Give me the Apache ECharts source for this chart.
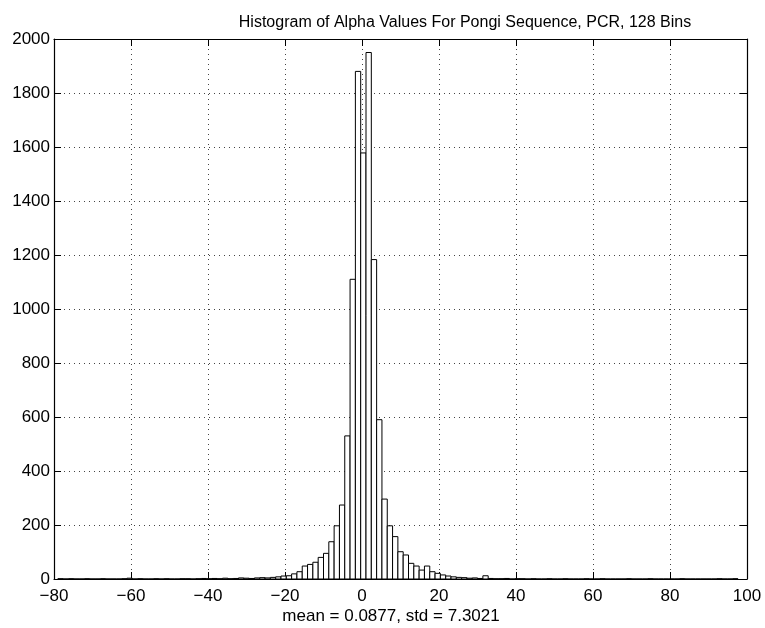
<!DOCTYPE html>
<html>
<head>
<meta charset="utf-8">
<script src="https://cdn.jsdelivr.net/npm/echarts@6/dist/echarts.min.js"></script>
<style>
html,body{margin:0;padding:0;background:#fff;}
#chart{width:765px;height:628px;}
</style>
</head>
<body>
<div id="chart"></div>
<script>
// ---- data ----
const titleText = 'Histogram of Alpha Values For Pongi Sequence, PCR, 128 Bins';
const xLabelText = 'mean = 0.0877, std = 7.3021';
const histMin = -79.0;     // left edge of first bin
const binWidth = 1.38;     // width of each of the 128 bins
const binCounts = [
  1,0,1,0,0,1,0,0,1,0,0,0,1,
  3,
  0,1,0,0,1,0,1,0,0,1,1,0,1,2,
  1,2,1,3,1,2,4,3,2,4,5,4,6,8,
  11,12,19,27,48,54,62,80,95,138,197,274,530,1110,1880,
  1578,1950,1183,590,296,197,157,101,89,58,48,33,48,27,21,15,11,8,6,5,3,4,2,
  12,
  2,1,1,2,0,1,1,0,1,0,0,1,0,0,1,0,0,0,1,0,0,1,0,0,0,0,1,0,0,0,1,0,0,0,0,0,1,0,0,0,0,0,0,1,0,0,1
];
const xTicks = [-80,-60,-40,-20,0,20,40,60,80,100];
const yTicks = [0,200,400,600,800,1000,1200,1400,1600,1800,2000];

// ---- build ----
const histData = binCounts.map((c, i) => [histMin + i * binWidth, histMin + (i + 1) * binWidth, c]);
const FONT = '"Liberation Sans", Arial, Helvetica, sans-serif';
const fmtMinus = v => String(v).replace('-', '\u2212');
const fmtPlain = v => String(v);

const chart = echarts.init(document.getElementById('chart'), null, {renderer: 'canvas'});
const tickStyle = {show: true, inside: true, length: 7, lineStyle: {color: '#000', width: 1}};
const lineStyle = {show: true, onZero: false, lineStyle: {color: '#000', width: 1.2}};
const gridLine = {show: true, lineStyle: {color: '#444', width: 1, type: [1, 4]}};

chart.setOption({
  animation: false,
  backgroundColor: '#fff',
  grid: {left: 54, right: 18, top: 39, bottom: 49, containLabel: false},
  graphic: [
    {type: 'text', x: 465, y: 23, style: {text: titleText, font: '16px ' + FONT, fill: '#000', textAlign: 'center', textVerticalAlign: 'middle'}},
    {type: 'text', x: 391, y: 616, style: {text: xLabelText, font: '17px ' + FONT, fill: '#000', textAlign: 'center', textVerticalAlign: 'middle'}}
  ],
  xAxis: [
    {type: 'value', position: 'bottom', min: xTicks[0], max: xTicks[xTicks.length - 1], interval: 20,
     axisLine: lineStyle, axisTick: tickStyle, splitLine: gridLine,
     axisLabel: {color: '#000', fontSize: 17, fontFamily: FONT, margin: 9, formatter: fmtMinus}},
    {type: 'value', position: 'top', min: xTicks[0], max: xTicks[xTicks.length - 1], interval: 20,
     axisLine: lineStyle, axisTick: tickStyle, splitLine: {show: false}, axisLabel: {show: false}}
  ],
  yAxis: [
    {type: 'value', position: 'left', min: yTicks[0], max: yTicks[yTicks.length - 1], interval: 200,
     axisLine: lineStyle, axisTick: tickStyle, splitLine: gridLine,
     axisLabel: {color: '#000', fontSize: 17, fontFamily: FONT, margin: 4, formatter: fmtPlain}},
    {type: 'value', position: 'right', min: yTicks[0], max: yTicks[yTicks.length - 1], interval: 200,
     axisLine: lineStyle, axisTick: tickStyle, splitLine: {show: false}, axisLabel: {show: false}}
  ],
  series: [{
    type: 'custom',
    xAxisIndex: 0, yAxisIndex: 0,
    data: histData,
    encode: {x: [0, 1], y: 2},
    renderItem: function (params, api) {
      const p0 = api.coord([api.value(0), api.value(2)]);
      const p1 = api.coord([api.value(1), 0]);
      return {
        type: 'rect',
        shape: {x: p0[0], y: p0[1], width: p1[0] - p0[0], height: p1[1] - p0[1]},
        style: {fill: '#fff', stroke: '#000', lineWidth: 1}
      };
    }
  }]
});
</script>
</body>
</html>
